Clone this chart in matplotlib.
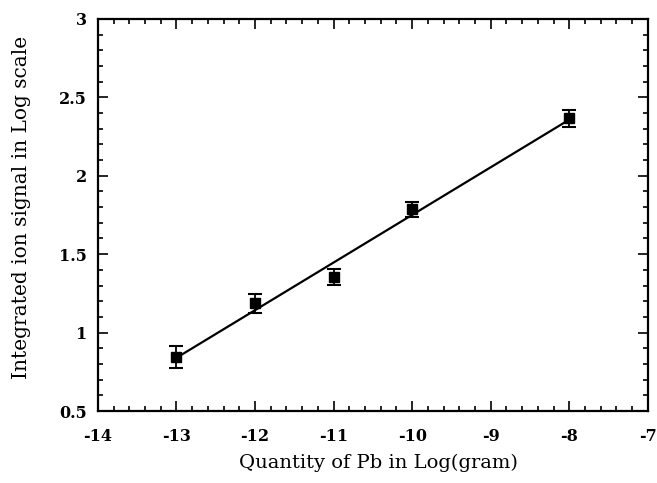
import numpy as np
import matplotlib.pyplot as plt
from matplotlib.ticker import MultipleLocator

# Data
log_mass = [-13, -12, -11, -10, -8]
log_signal = [0.846, 1.187, 1.353, 1.785, 2.365]
signal_err = [0.07, 0.06, 0.05, 0.05, 0.055]

# Linear fit through the points
slope, intercept = np.polyfit(log_mass, log_signal, 1)
fit_x = np.array([min(log_mass), max(log_mass)])
fit_y = slope * fit_x + intercept

plt.rcParams['font.family'] = 'DejaVu Serif'
plt.rcParams['axes.unicode_minus'] = False

fig = plt.figure(figsize=(6.57, 4.83), dpi=100)
ax = fig.add_axes([0.149, 0.149, 0.837, 0.812])

ax.plot(fit_x, fit_y, color='black', linewidth=1.6)
ax.errorbar(log_mass, log_signal, yerr=signal_err, fmt='s', color='black',
            markersize=7, elinewidth=1.3, capsize=5, capthick=1.5)

ax.set_xlim(-14, -7)
ax.set_ylim(0.5, 3)
ax.xaxis.set_major_locator(MultipleLocator(1))
ax.xaxis.set_minor_locator(MultipleLocator(0.2))
ax.yaxis.set_minor_locator(MultipleLocator(0.1))
ax.set_yticks([0.5, 1, 1.5, 2, 2.5, 3])
ax.set_yticklabels(['0.5', '1', '1.5', '2', '2.5', '3'])

ax.tick_params(which='both', direction='in', top=True, right=True,
               labelsize=11.5, width=1.2)
ax.tick_params(which='major', length=7)
ax.tick_params(axis='x', which='major', pad=12)
ax.tick_params(axis='y', which='major', pad=8)
ax.tick_params(which='minor', length=3.5)
for lbl in ax.get_xticklabels() + ax.get_yticklabels():
    lbl.set_fontweight('bold')
for s in ax.spines.values():
    s.set_linewidth(1.6)

ax.set_xlabel('Quantity of Pb in Log(gram)', fontsize=14)
ax.set_ylabel('Integrated ion signal in Log scale', fontsize=14.5)
ax.xaxis.set_label_coords(0.51, -0.11)
ax.yaxis.set_label_coords(-0.122, 0.52)

fig.savefig('out.png', dpi=100)
